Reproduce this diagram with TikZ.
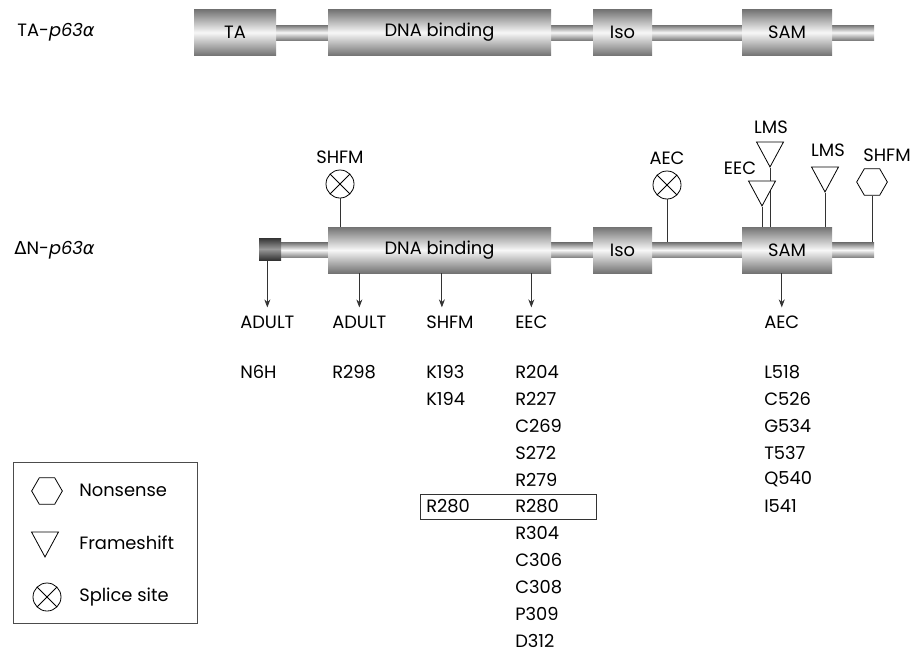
\documentclass[tikz,border=0pt]{standalone}
\usepackage{fontspec}
\setmainfont{Poppins}
\newfontfamily\grkfont{DejaVu Sans}
\usetikzlibrary{shapes.geometric, arrows.meta, positioning}

\tikzset{
  txt/.style={font=\fontsize{13.4pt}{16pt}\selectfont, inner sep=0pt},
  domainbox/.style={txt, rectangle, minimum height=34.5pt, top color=black!55, bottom color=black!55, middle color=black!3},
  darkbox/.style={rectangle, inner sep=0pt, minimum size=16.5pt, top color=black!80, bottom color=black!80, middle color=black!40},
  barline/.style={rectangle, inner sep=0pt, minimum height=11.25pt, top color=black!55, bottom color=black!50, middle color=black!3},
  stemline/.style={draw=black!80, line width=0.6pt},
  mutarrow/.style={stemline, -{Stealth[length=6pt, width=4.5pt]}, shorten >=6pt},
  splice/.style={circle, draw, fill=white, line width=0.6pt, minimum size=21pt, inner sep=0pt,
    path picture={\draw[line width=0.6pt] (path picture bounding box.north west) -- (path picture bounding box.south east)
      (path picture bounding box.north east) -- (path picture bounding box.south west);}},
  frameshift/.style={isosceles triangle, isosceles triangle stretches, shape border rotate=-90, draw, fill=white,
    line width=0.6pt, inner sep=0pt, minimum width=20.25pt, minimum height=18.75pt},
  nonsense/.style={regular polygon, regular polygon sides=6, draw, fill=white, line width=0.6pt, inner sep=0pt, minimum size=23pt},
}

\begin{document}
\begin{tikzpicture}[x=0.75pt, y=-0.75pt]
\useasboundingbox (0,0) rectangle (916,653);

% TA isoform
\node[txt, anchor=east] (lblTA) at (95,32.5) {TA-\textit{p63}{\grkfont\itshape α}};
\node[barline, minimum width=510pt] (barT) at (534,32.5) {};
\node[domainbox, minimum width=61.5pt] (taT) at (235,32.5) {TA};
\node[domainbox, minimum width=167.25pt] (dnaT) at (439.5,32.5) {DNA binding};
\node[domainbox, minimum width=44.25pt] (isoT) at (622.5,32.5) {Iso};
\node[domainbox, minimum width=67.5pt] (samT) at (787,32.5) {SAM};

% DeltaN isoform
\node[txt, anchor=east] (lblDN) at (95,250) {{\grkfont Δ}N-\textit{p63}{\grkfont\itshape α}};
\node[barline, minimum width=461.25pt] (barN) at (566.5,250) {};
\node[darkbox] (dnN) at (270,249) {};
\node[domainbox, minimum width=167.25pt] (dnaN) at (439.5,250) {DNA binding};
\node[domainbox, minimum width=44.25pt] (isoN) at (622.5,250) {Iso};
\node[domainbox, minimum width=67.5pt] (samN) at (787,250) {SAM};

% mutations above
\node[splice] (splA) at (340,184) {};
\node[txt] (splAt) at (340,157) {SHFM};
\node[splice] (splB) at (667,185) {};
\node[txt] (splBt) at (667,158) {AEC};
\coordinate (fsAtip) at (762,207);
\coordinate (fsBtip) at (770,168);
\coordinate (fsCtip) at (825,193);
\draw[stemline] (splA.south) -- (splA.south |- dnaN.north);
\draw[stemline] (splB.south) -- (splB.south |- barN.north);
\draw[stemline] (fsAtip) -- (fsAtip |- samN.north);
\draw[stemline] (fsBtip) -- (fsBtip |- samN.north);
\draw[stemline] (fsCtip) -- (fsCtip |- samN.north);
\node[frameshift, anchor=apex] (fsA) at (fsAtip) {};
\node[txt] (fsAt) at (740,168) {EEC};
\node[frameshift, anchor=apex] (fsB) at (fsBtip) {};
\node[txt] (fsBt) at (771,127) {LMS};
\node[frameshift, anchor=apex] (fsC) at (fsCtip) {};
\node[txt] (fsCt) at (828,150) {LMS};
\node[nonsense] (nonA) at (872,182) {};
\node[txt] (nonAt) at (887,155) {SHFM};
\draw[stemline] (nonA.south) -- (nonA.south |- barN.north);

% syndromes below
\node[txt, anchor=west] (lbA) at (240,322) {ADULT};
\node[txt, anchor=west] (lbB) at (332,322) {ADULT};
\node[txt, anchor=west] (lbC) at (426,322) {SHFM};
\node[txt, anchor=west] (lbD) at (515,322) {EEC};
\node[txt, anchor=west] (lbE) at (764,322) {AEC};
\draw[mutarrow] (lbA.north |- dnN.south) -- (lbA.north);
\draw[mutarrow] (lbB.north |- dnaN.south) -- (lbB.north);
\draw[mutarrow] ([xshift=-6pt]lbC.north |- dnaN.south) -- ([xshift=-6pt]lbC.north);
\draw[mutarrow] (lbD.north |- dnaN.south) -- (lbD.north);
\draw[mutarrow] (lbE.north |- samN.south) -- (lbE.north);

% residues
\node[txt, anchor=west] (adA0) at (240,372) {N6H};
\node[txt, anchor=west] (adB0) at (332,372) {R298};
\foreach \m [count=\i from 0] in {K193,K194,,,,R280}
  \node[txt, anchor=west] (shfm\i) at (426,{372+26.9*\i}) {\m};
\foreach \m [count=\i from 0] in {R204,R227,C269,S272,R279,R280,R304,C306,C308,P309,D312}
  \node[txt, anchor=west] (eec\i) at (515,{372+26.9*\i}) {\m};
\foreach \m [count=\i from 0] in {L518,C526,G534,T537,Q540,I541}
  \node[txt, anchor=west] (aec\i) at (764,{372+26.9*\i}) {\m};
\node[draw=black!80, line width=0.6pt, minimum width=132pt, minimum height=18.75pt] (hit) at (508,506.5) {};

% key
\node[draw=black!70, line width=0.75pt, minimum width=138pt, minimum height=120.75pt] (legend) at (105,542.5) {};
\node[nonsense] (keyN) at (47,491) {};
\node[txt, anchor=west] (keyNt) at (79,490) {Nonsense};
\node[frameshift, anchor=apex] (keyF) at (45,558) {};
\node[txt, anchor=west] (keyFt) at (79,543) {Frameshift};
\node[splice] (keyS) at (47,597) {};
\node[txt, anchor=west] (keySt) at (79,597) {Splice site};

\end{tikzpicture}
\end{document}
